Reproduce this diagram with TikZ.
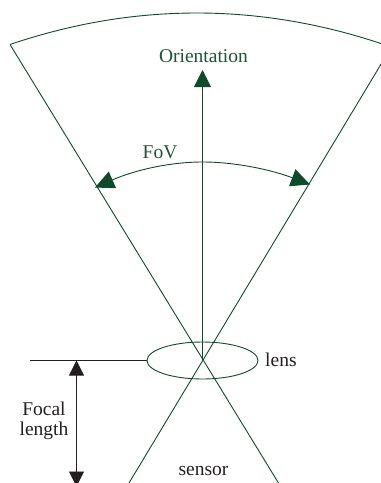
\documentclass[tikz,border=0pt]{standalone}
\usepackage{fontspec}
\setmainfont{Liberation Serif}
\usetikzlibrary{arrows.meta,shapes.geometric}
\definecolor{dgreen}{HTML}{0F4A2A}
\definecolor{tgreen}{HTML}{1F5238}
\definecolor{inkblack}{HTML}{231F20}
\tikzset{
  gline/.style={draw=dgreen,line width=0.9pt},
  bline/.style={draw=inkblack,line width=0.9pt},
  gtip/.style={-{Triangle[length=17pt,width=17pt,fill=dgreen]}},
  lab/.style={inner sep=0pt,font=\fontsize{19.5pt}{23pt}\selectfont},
}
\begin{document}
\begin{tikzpicture}[x=1pt,y=-1pt]
\useasboundingbox (0,0) rectangle (381,483);
\clip (0,0) rectangle (381,483);
\coordinate (c) at (202.5,360);
\coordinate (tl) at (10,44.5);
\coordinate (tr) at (395,48.4);
\coordinate (trl) at (395,41);
\coordinate (bl) at (129,483);
\coordinate (br) at (278.5,483);
\coordinate (ot) at (202.5,70);
\coordinate (fl) at (95,187.5);
\coordinate (fr) at (310,184.5);
\coordinate (d0) at (30,360.5);
\coordinate (dt) at (76.5,360.5);
\coordinate (db) at (76.5,486.5);
\coordinate (topmid) at (197,13);
\draw[gline] (tl) .. controls (72,23.5) and (134,13) .. (topmid) .. controls (263,13) and (330,25) .. (tr);
\draw[gline] (tl) -- (br);
\draw[gline] (trl) -- (bl);
\node[gline,ellipse,minimum width=111pt,minimum height=37pt,inner sep=0pt] (lensE) at (202.5,360.5) {};
\draw[gline,gtip] (c) -- (ot);
\draw[gline,{Triangle[length=19pt,width=18pt,fill=dgreen]}-{Triangle[length=19pt,width=18pt,fill=dgreen]}] (fl) .. controls (135,170) and (170,162) .. (202.5,162) .. controls (236,162) and (272,170) .. (fr);
\draw[bline] (d0) -- (lensE.west);
\draw[bline,{Triangle[length=15pt,width=15pt,fill=inkblack]}-{Triangle[length=15pt,width=15pt,fill=inkblack]}] (dt) -- (db);
\node[lab,text=tgreen] (orient) at (203.5,56) {Orientation};
\node[lab,text=tgreen] (fov) at (160,152.5) {FoV};
\node[lab,text=inkblack,anchor=west] (lens) at (265,360) {lens};
\node[lab,text=inkblack] (focal) at (44,409) {Focal};
\node[lab,text=inkblack] (length) at (44,431) {length};
\node[lab,text=inkblack] (sensor) at (203.5,471) {sensor};
\end{tikzpicture}
\end{document}
